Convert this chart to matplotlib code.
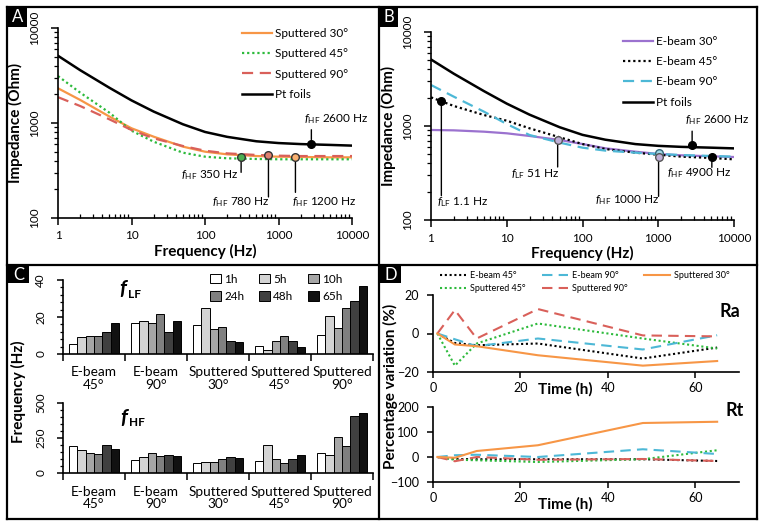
import matplotlib
matplotlib.use('Agg')
import matplotlib.pyplot as plt
import numpy as np
from matplotlib.patches import Rectangle, Patch
from matplotlib.lines import Line2D
from matplotlib.ticker import LogLocator, NullFormatter, MultipleLocator

plt.rcParams['font.family'] = ['Lato', 'DejaVu Sans']
plt.rcParams['mathtext.fontset'] = 'custom'
plt.rcParams['mathtext.rm'] = 'Lato'
plt.rcParams['mathtext.it'] = 'Lato:italic'
plt.rcParams['mathtext.bf'] = 'Lato:bold'
plt.rcParams['axes.linewidth'] = 1.2

# ---------------- data ----------------
freq = [1, 2, 5, 10, 20, 50, 100, 200, 500, 1000, 2000, 5000, 10000]
z_pt = [5100, 3600, 2350, 1730, 1320, 970, 805, 715, 642, 615, 600, 588, 578]
z_sp30 = [2320, 1750, 1170, 880, 718, 564, 499, 468, 449, 442, 439, 435, 435]
z_sp45 = [3120, 2090, 1285, 830, 636, 487, 442, 425, 418, 415, 415, 415, 415]
z_sp90 = [1870, 1510, 1093, 844, 690, 573, 511, 479, 461, 453, 449, 449, 449]
z_eb30 = [907, 899, 870, 836, 783, 710, 643, 579, 533, 504, 488, 476, 468]
z_eb45 = [2018, 1633, 1309, 1139, 945, 758, 643, 569, 520, 495, 472, 457, 442]
z_eb90 = [2730, 2051, 1421, 1050, 802, 665, 588, 547, 520, 504, 491, 480, 472]

# characteristic-frequency markers (position, label text)
mk_a_f = [310, 730, 1700, 2800]
mk_a_z = [435, 461, 435, 605]
mk_a_txt = ['350 Hz', '780 Hz', '1200 Hz', '2600 Hz']
mk_b_f = [1.37, 47, 1010, 1010, 2800, 5100]
mk_b_z = [1860, 710, 520, 464, 625, 464]
mk_b_txt = ['1.1 Hz', '51 Hz', '1000 Hz', '', '2600 Hz', '4900 Hz']

groups = ['E-beam\n45°', 'E-beam\n90°', 'Sputtered\n30°', 'Sputtered\n45°', 'Sputtered\n90°']
hours = ['1h', '5h', '10h', '24h', '48h', '65h']
f_lf = [[5.2, 16.6, 15.9, 4.5, 10.3],
        [9.0, 18.0, 24.9, 2.2, 20.4],
        [9.5, 16.6, 13.5, 6.8, 14.2],
        [9.5, 21.4, 14.8, 9.7, 24.9],
        [11.9, 11.9, 7.0, 6.8, 28.8],
        [16.9, 17.7, 6.5, 3.6, 36.6]]
f_hf = [[195, 90, 69, 83, 143],
        [164, 112, 76, 202, 129],
        [143, 143, 76, 100, 260],
        [136, 121, 98, 74, 195],
        [202, 126, 112, 98, 410],
        [171, 119, 105, 126, 429]]

time_h = [1, 5, 10, 24, 48, 65]
ra_eb45 = [0, -4.9, -6.1, -5.2, -13.0, -7.3]
ra_eb90 = [0, -3.0, -6.6, -2.6, -8.3, -0.9]
ra_sp30 = [0, -5.7, -6.6, -11.3, -16.7, -14.3]
ra_sp45 = [0, -16.7, -5.2, 5.2, -2.6, -7.8]
ra_sp90 = [0, 12.2, -2.6, 12.7, -1.0, -1.5]
rt_eb45 = [0, -8, -9, -9, -9, -16]
rt_eb90 = [0, 7, 9, 0, 31, 12]
rt_sp30 = [0, -3, 24, 47, 136, 141]
rt_sp45 = [0, -11, -13, -20, -9, 27]
rt_sp90 = [0, -17, 0, -11, -8, -16]

# ---------------- styles ----------------
C_OR = '#F79646'
C_GR = '#2DBA3C'
C_RD = '#D9605A'
C_PU = '#9B72CF'
C_CY = '#4DB8D6'
DOT = (0, (1, 1.3))
DASH = (0, (5, 3))
bar_cols = ['#FFFFFF', '#D4D4D4', '#A6A6A6', '#808080', '#404040', '#111111']

W, H = 764, 527
fig = plt.figure(figsize=(W / 100, H / 100), dpi=100)


def px_axes(l, t, r, b):
    return fig.add_axes([l / W, 1 - b / H, (r - l) / W, (b - t) / H])


def style_spines(ax):
    ax.spines['top'].set_visible(False)
    ax.spines['right'].set_visible(False)


def log_axes(ax):
    style_spines(ax)
    ax.set_xscale('log')
    ax.set_yscale('log')
    ax.set_xlim(1, 10000)
    ax.set_ylim(100, 10000)
    ax.set_xticks([1, 10, 100, 1000, 10000])
    ax.set_xticklabels(['1', '10', '100', '1000', '10000'])
    ax.set_yticks([100, 1000, 10000])
    ax.set_yticklabels(['100', '1000', '10000'], rotation=90, va='center')
    ax.xaxis.set_minor_locator(LogLocator(base=10, subs=np.arange(2, 10)))
    ax.yaxis.set_minor_locator(LogLocator(base=10, subs=np.arange(2, 10)))
    ax.xaxis.set_minor_formatter(NullFormatter())
    ax.yaxis.set_minor_formatter(NullFormatter())
    ax.tick_params(axis='x', which='major', direction='out', length=5, width=1.1, labelsize=8.5, pad=4)
    ax.tick_params(axis='x', which='minor', direction='in', length=3, width=0.9)
    ax.tick_params(axis='y', which='major', direction='out', length=5, width=1.1, labelsize=8.5, pad=8)
    ax.tick_params(axis='y', which='minor', direction='out', length=3, width=0.9)
    ax.set_xlabel('Frequency (Hz)', fontsize=11, fontweight='bold', labelpad=2)
    ax.set_ylabel('Impedance (Ohm)', fontsize=11, fontweight='bold', labelpad=4)


def mark(ax, f, z, fc, ec, txt, line_dy, tdx, tdy, ha, sub='HF'):
    ax.plot([f], [z], 'o', ms=5.5, mfc=fc, mec=ec, mew=1.0, zorder=6)
    if line_dy:
        ax.annotate('', xy=(f, z), xytext=(0, line_dy), textcoords='offset pixels',
                    arrowprops=dict(arrowstyle='-', lw=1.0, color='black', shrinkA=0, shrinkB=3))
    if txt:
        ax.annotate(r'$f_{\mathrm{%s}}$ ' % sub + txt, xy=(f, z), xytext=(tdx, tdy),
                    textcoords='offset pixels', ha=ha, va='center', fontsize=8.5)


leg_kw = dict(loc='upper left', frameon=False, fontsize=8.5, handlelength=2.5,
              labelspacing=0.78, handletextpad=0.25)

# ---------------- panel A ----------------
axA = px_axes(58, 28, 352, 218)
log_axes(axA)
axA.plot(freq, z_sp30, color=C_OR, lw=1.6, label='Sputtered 30°')
axA.plot(freq, z_sp45, color=C_GR, lw=1.6, ls=DOT, label='Sputtered 45°')
axA.plot(freq, z_sp90, color=C_RD, lw=1.6, ls=DASH, label='Sputtered 90°')
axA.plot(freq, z_pt, color='black', lw=1.8, label='Pt foils')
axA.legend(bbox_to_anchor=(0.59, 1.055), **leg_kw)
mark(axA, mk_a_f[0], mk_a_z[0], '#4CAF50', '#333333', mk_a_txt[0], -15, -3, -18, 'right')
mark(axA, mk_a_f[1], mk_a_z[1], '#E08070', '#333333', mk_a_txt[1], -42, 1, -47, 'right')
mark(axA, mk_a_f[2], mk_a_z[2], '#F9B070', '#333333', mk_a_txt[2], -35, -3, -45, 'left')
mark(axA, mk_a_f[3], mk_a_z[3], 'black', 'black', mk_a_txt[3], 14, -7, 25, 'left')

# ---------------- panel B ----------------
axB = px_axes(431, 32, 734, 220)
log_axes(axB)
axB.plot(freq, z_eb30, color=C_PU, lw=1.6, label='E-beam 30°')
axB.plot(freq, z_eb45, color='black', lw=1.6, ls=DOT, label='E-beam 45°')
axB.plot(freq, z_eb90, color=C_CY, lw=1.6, ls=DASH, label='E-beam 90°')
axB.plot(freq, z_pt, color='black', lw=1.8, label='Pt foils')
axB.legend(bbox_to_anchor=(0.6, 1.035), **leg_kw)
mark(axB, mk_b_f[0], mk_b_z[0], 'black', 'black', mk_b_txt[0], -95, -4, -101, 'left', 'LF')
mark(axB, mk_b_f[1], mk_b_z[1], '#C0B0D8', '#555555', mk_b_txt[1], -27, 2, -34, 'right', 'LF')
mark(axB, mk_b_f[2], mk_b_z[2], '#9FD8E8', '#336677', '', 0, 0, 0, 'right')
mark(axB, mk_b_f[3], mk_b_z[3], '#C0B0D8', '#555555', mk_b_txt[2], -39, 1, -43, 'right')
mark(axB, mk_b_f[4], mk_b_z[4], 'black', 'black', mk_b_txt[4], 14, -7, 25, 'left')
mark(axB, mk_b_f[5], mk_b_z[5], 'black', 'black', mk_b_txt[5], -10, -45, -16, 'left')

# ---------------- panel C ----------------
bw = 0.137
xg = np.arange(len(groups))


def bar_axes(ax, data, ymax, major, minor):
    style_spines(ax)
    for i, h in enumerate(hours):
        ax.bar(xg + (i - 2.5) * bw, data[i], width=bw, color=bar_cols[i],
               edgecolor='black', linewidth=0.7, label=h)
    ax.set_xlim(-0.5, 4.5)
    ax.set_ylim(0, ymax)
    ax.set_yticks(np.arange(0, ymax + 1, major))
    ax.set_yticklabels([str(v) for v in np.arange(0, ymax + 1, major)], rotation=90, va='center')
    ax.yaxis.set_minor_locator(MultipleLocator(minor))
    ax.set_xticks(np.arange(-0.5, 5, 1))
    ax.set_xticklabels([])
    ax.set_xticks(xg, minor=True)
    ax.set_xticklabels(groups, minor=True, fontsize=9.8, linespacing=1.05)
    ax.tick_params(axis='x', which='major', direction='out', length=5, width=1.1)
    ax.tick_params(axis='x', which='minor', length=0, pad=9)
    ax.tick_params(axis='y', which='major', direction='out', length=4, width=1.1, labelsize=8.5, pad=8)
    ax.tick_params(axis='y', which='minor', direction='out', length=2.5, width=0.9)


axC1 = px_axes(63, 280, 373, 354)
bar_axes(axC1, f_lf, 40, 20, 4)
axC2 = px_axes(63, 403, 373, 473)
bar_axes(axC2, f_hf, 500, 250, 50)
hnd = [Patch(facecolor=bar_cols[i], edgecolor='black', linewidth=0.7) for i in range(6)]
order = [0, 3, 1, 4, 2, 5]
axC1.legend([hnd[i] for i in order], [hours[i] for i in order], ncol=3, loc='upper left',
            bbox_to_anchor=(0.44, 1.23), frameon=False, fontsize=8.5, handlelength=0.9,
            handleheight=0.9, handletextpad=0.3, columnspacing=1.25, labelspacing=0.55)
fig.text(119 / W, 1 - 289 / H, 'f', fontsize=15, fontweight='bold', fontstyle='italic', va='center')
fig.text(128 / W, 1 - 294 / H, 'LF', fontsize=8.5, fontweight='bold', va='center')
fig.text(120 / W, 1 - 418 / H, 'f', fontsize=15, fontweight='bold', fontstyle='italic', va='center')
fig.text(129 / W, 1 - 423 / H, 'HF', fontsize=8.5, fontweight='bold', va='center')
fig.text(18 / W, 1 - 392 / H, 'Frequency (Hz)', rotation=90, fontsize=11, fontweight='bold',
         ha='center', va='center')


# ---------------- panel D ----------------
def line_axes(ax, ylim, yticks, label_y):
    style_spines(ax)
    ax.set_xlim(0, 70)
    ax.set_ylim(*ylim)
    ax.set_xticks([0, 20, 40, 60])
    ax.set_yticks(yticks)
    ax.tick_params(axis='both', direction='out', length=4, width=1.1, labelsize=9)
    ax.tick_params(axis='y', pad=6)
    ax.set_xlabel('Time (h)', fontsize=11, fontweight='bold')
    ax.xaxis.set_label_coords(0.431, label_y)


axD1 = px_axes(433, 295, 739, 372)
line_axes(axD1, (-20, 20), [-20, 0, 20], -0.13)
axD1.plot(time_h, ra_eb45, color='black', lw=1.5, ls=DOT, label='E-beam 45°')
axD1.plot(time_h, ra_sp45, color=C_GR, lw=1.5, ls=DOT, label='Sputtered 45°')
axD1.plot(time_h, ra_eb90, color=C_CY, lw=1.5, ls=DASH, label='E-beam 90°')
axD1.plot(time_h, ra_sp90, color=C_RD, lw=1.5, ls=DASH, label='Sputtered 90°')
axD1.plot(time_h, ra_sp30, color=C_OR, lw=1.5, label='Sputtered 30°')
axD1.legend(ncol=3, loc='upper left', bbox_to_anchor=(-0.005, 1.42), frameon=False, fontsize=6.5,
            handlelength=2.9, handletextpad=0.45, columnspacing=1.8, labelspacing=0.45)
axD1.text(0.97, 0.78, 'Ra', transform=axD1.transAxes, fontsize=13, fontweight='bold', ha='center', va='center')

axD2 = px_axes(433, 407, 739, 482)
line_axes(axD2, (-100, 200), [-100, 0, 100, 200], -0.2)
axD2.plot(time_h, rt_eb45, color='black', lw=1.5, ls=DOT)
axD2.plot(time_h, rt_sp45, color=C_GR, lw=1.5, ls=DOT)
axD2.plot(time_h, rt_eb90, color=C_CY, lw=1.5, ls=DASH)
axD2.plot(time_h, rt_sp90, color=C_RD, lw=1.5, ls=DASH)
axD2.plot(time_h, rt_sp30, color=C_OR, lw=1.5)
axD2.text(0.985, 0.95, 'Rt', transform=axD2.transAxes, fontsize=13, fontweight='bold', ha='center', va='center')
fig.text(390 / W, 1 - 386 / H, 'Percentage variation (%)', rotation=90, fontsize=11,
         fontweight='bold', ha='center', va='center')


# ---------------- frames and panel letters ----------------
def fig_line(x0, y0, x1, y1, lw=1.6):
    fig.add_artist(Line2D([x0 / W, x1 / W], [1 - y0 / H, 1 - y1 / H], color='black', lw=lw,
                          transform=fig.transFigure))


fig_line(6.5, 6.5, 757, 6.5)
fig_line(6.5, 519, 757, 519)
fig_line(6.5, 6.5, 6.5, 519)
fig_line(757, 6.5, 757, 519)
fig_line(379, 6.5, 379, 519)
fig_line(6.5, 264.5, 757, 264.5)

for lab, (x0, y0, w, h) in zip('ABCD', [(8, 8, 19, 19), (380, 8, 18, 19), (8, 266, 21, 17), (380, 266, 21, 17)]):
    fig.add_artist(Rectangle((x0 / W, 1 - (y0 + h) / H), w / W, h / H, transform=fig.transFigure,
                             facecolor='black', edgecolor='none'))
    fig.text((x0 + w / 2) / W, 1 - (y0 + h / 2) / H, lab, color='white', fontsize=12,
             ha='center', va='center')

fig.savefig('out.png', dpi=100)
